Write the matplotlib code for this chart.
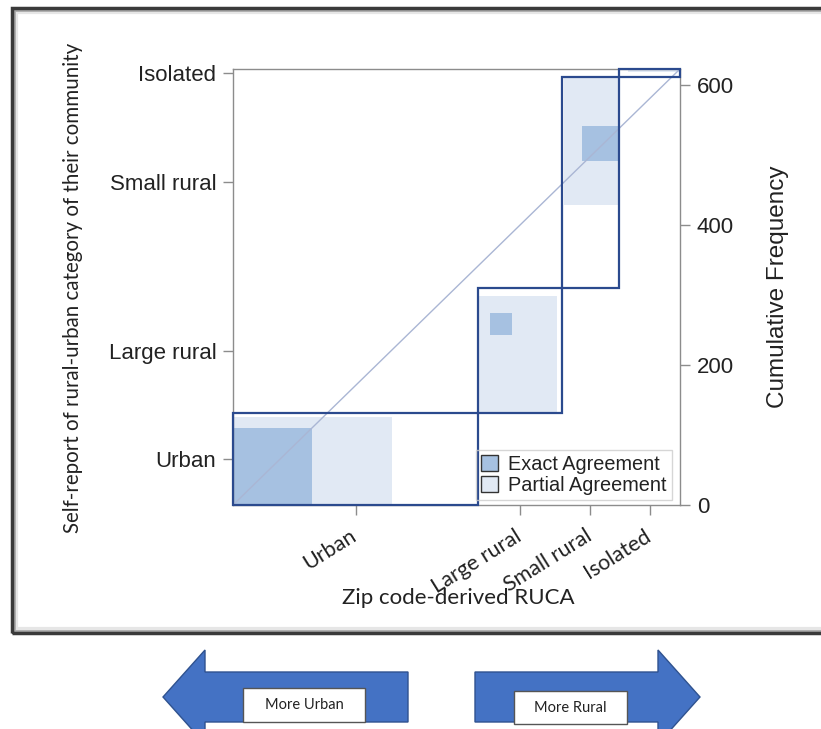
"""
Agreement chart: self-reported rural-urban category vs. zip code-derived RUCA.

Each outlined box is one category: its width is the RUCA (column) total and its
height the self-report (row) total, stacked along the cumulative frequency.
Dark squares show exact agreement, light blocks add the neighbouring categories.
"""

import matplotlib.pyplot as plt
import matplotlib.transforms as mtransforms
import numpy as np
from matplotlib.patches import Patch, Polygon, Rectangle

W, H = 821, 729

CATEGORIES = ["Urban", "Large rural", "Small rural", "Isolated"]

# rows: self-report, columns: zip code-derived RUCA (same category order)
URBAN_ROW = [110, 16, 4, 1]
LARGE_RURAL_ROW = [112, 31, 24, 12]
SMALL_RURAL_ROW = [119, 63, 50, 70]
ISOLATED_ROW = [1, 6, 2, 2]

FREQ_TICKS = [0, 200, 400, 600]

EXACT_COLOR = "#a6c1e1"
PARTIAL_COLOR = "#e1e9f4"
OUTLINE_COLOR = "#2b4a8e"
DIAG_COLOR = "#aab6d4"
SPINE_COLOR = "#8c8c8c"
TEXT_COLOR = "#222222"
ARROW_FACE = "#4472c4"
ARROW_EDGE = "#2f528f"

ARIAL = "Liberation Sans"
CALIBRI = "Lato"


def px(x, y):
    """Pixel position (from top-left) to figure fraction."""
    return x / W, 1 - y / H


def main() -> None:
    table = np.array([URBAN_ROW, LARGE_RURAL_ROW, SMALL_RURAL_ROW, ISOLATED_ROW])
    k = len(CATEGORIES)
    row_tot = table.sum(axis=1)
    col_tot = table.sum(axis=0)
    row_cum = np.concatenate([[0], np.cumsum(row_tot)])
    col_cum = np.concatenate([[0], np.cumsum(col_tot)])
    n = table.sum()

    fig = plt.figure(figsize=(W / 100, H / 100), dpi=100)
    fig.patch.set_facecolor("white")

    left, bottom = px(233, 505)
    ax = fig.add_axes([left, bottom, 447 / W, 436 / H])
    ax.set_xlim(0, n)
    ax.set_ylim(0, n)

    # partial agreement blocks (diagonal plus one step either side)
    for i in range(k):
        lo, hi = max(i - 1, 0), min(i + 1, k - 1)
        x0 = col_cum[i] + table[:lo, i].sum()
        y0 = row_cum[i] + table[i, :lo].sum()
        w = table[lo:hi + 1, i].sum()
        h = table[i, lo:hi + 1].sum()
        ax.add_patch(Rectangle((x0, y0), w, h, facecolor=PARTIAL_COLOR,
                               edgecolor="none", zorder=1))

    # exact agreement squares
    for i in range(k):
        x0 = col_cum[i] + table[:i, i].sum()
        y0 = row_cum[i] + table[i, :i].sum()
        ax.add_patch(Rectangle((x0, y0), table[i, i], table[i, i],
                               facecolor=EXACT_COLOR, edgecolor="none", zorder=2))

    ax.plot([0, n], [0, n], color=DIAG_COLOR, lw=1.0, zorder=3)

    # marginal boxes
    for i in range(k):
        ax.add_patch(Rectangle((col_cum[i], row_cum[i]), col_tot[i], row_tot[i],
                               facecolor="none", edgecolor=OUTLINE_COLOR,
                               lw=1.6, zorder=4, clip_on=False))

    for s in ax.spines.values():
        s.set_color(SPINE_COLOR)
        s.set_linewidth(1.0)

    row_mid = (row_cum[:-1] + row_cum[1:]) / 2
    col_mid = (col_cum[:-1] + col_cum[1:]) / 2

    ax.set_yticks(row_mid)
    ax.set_yticklabels(CATEGORIES, fontsize=16, family=ARIAL, color=TEXT_COLOR)
    ax.set_xticks(col_mid)
    ax.set_xticklabels(CATEGORIES, fontsize=15.5, family=CALIBRI, color=TEXT_COLOR,
                       rotation=32, ha="right", va="top", rotation_mode="anchor")
    ax.tick_params(axis="both", length=7, width=1, color=SPINE_COLOR)
    ax.tick_params(axis="y", pad=5)
    ax.tick_params(axis="x", pad=8)
    # nudge the slanted labels a little to the left
    shift = mtransforms.ScaledTranslation(-6 / 100, 0, fig.dpi_scale_trans)
    for lbl in ax.get_xticklabels():
        lbl.set_transform(lbl.get_transform() + shift)

    ax2 = ax.twinx()
    ax2.set_ylim(0, n)
    ax2.set_yticks(FREQ_TICKS)
    ax2.set_yticklabels([str(t) for t in FREQ_TICKS], fontsize=16, family=ARIAL,
                        color=TEXT_COLOR)
    ax2.tick_params(axis="y", length=7, width=1, color=SPINE_COLOR, pad=5)
    for s in ax2.spines.values():
        s.set_visible(False)

    handles = [
        Patch(facecolor=EXACT_COLOR, edgecolor="#333333", label="Exact Agreement"),
        Patch(facecolor=PARTIAL_COLOR, edgecolor="#333333", label="Partial Agreement"),
    ]
    leg = ax.legend(handles=handles, loc="lower right", bbox_to_anchor=(0.982, 0.012),
                    prop={"family": ARIAL, "size": 14.3}, frameon=True, fancybox=False,
                    handlelength=0.85, handleheight=0.85, handletextpad=0.55,
                    borderpad=0.25, labelspacing=0.08, borderaxespad=0)
    leg.get_frame().set_edgecolor("#cccccc")
    leg.get_frame().set_facecolor("none")
    leg.get_frame().set_linewidth(1.0)
    leg.set_zorder(5)
    for t in leg.get_texts():
        t.set_color(TEXT_COLOR)

    fig.text(*px(458, 598), "Zip code-derived RUCA", fontsize=16, family=CALIBRI,
             color=TEXT_COLOR, ha="center", va="center")
    fig.text(*px(73, 288), "Self-report of rural-urban category of their community",
             fontsize=14.8, family=CALIBRI, color=TEXT_COLOR, rotation=90,
             ha="center", va="center")
    fig.text(*px(778, 287), "Cumulative Frequency", fontsize=17.5, family=ARIAL,
             color=TEXT_COLOR, rotation=90, ha="center", va="center")

    # outer frame with a soft inner shadow
    for inset, col, lw in [(4, "#e6e6e6", 3), (2, "#aaaaaa", 2), (0, "#3a3a3a", 2.5)]:
        x0, y0 = px(12 + inset, 633 - inset)
        x1, y1 = px(840, 8 + inset)
        fig.add_artist(Rectangle((x0, y0), x1 - x0, y1 - y0, transform=fig.transFigure,
                                 facecolor="none", edgecolor=col, lw=lw))

    # direction arrows under the chart
    left_arrow = [(163, 697), (205, 650), (205, 672), (408, 672), (408, 722),
                  (205, 722), (205, 744)]
    right_arrow = [(700, 697), (658, 650), (658, 672), (475, 672), (475, 722),
                   (658, 722), (658, 744)]
    for pts in (left_arrow, right_arrow):
        fig.add_artist(Polygon([px(x, y) for x, y in pts], closed=True,
                               transform=fig.transFigure, facecolor=ARROW_FACE,
                               edgecolor=ARROW_EDGE, lw=1.0))

    for (x0, y0, x1, y1), label in [((243, 688, 365, 722), "More Urban"),
                                    ((514, 691, 627, 724), "More Rural")]:
        bl = px(x0, y1)
        tr = px(x1, y0)
        fig.add_artist(Rectangle(bl, tr[0] - bl[0], tr[1] - bl[1],
                                 transform=fig.transFigure, facecolor="white",
                                 edgecolor="#555555", lw=1.0))
        fig.text(*px((x0 + x1) / 2, (y0 + y1) / 2), label, fontsize=10.5,
                 family=CALIBRI, color=TEXT_COLOR, ha="center", va="center")

    fig.savefig("out.png", dpi=100)
    plt.close(fig)


if __name__ == "__main__":
    main()
